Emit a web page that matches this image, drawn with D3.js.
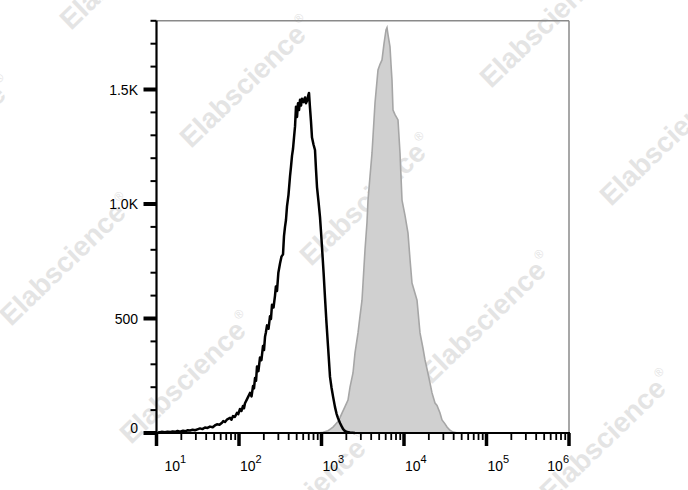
<!DOCTYPE html>
<html><head><meta charset="utf-8">
<script src="https://cdn.jsdelivr.net/npm/d3@7"></script>
<style>
html,body{margin:0;padding:0;background:#fff;}
svg{display:block;font-family:"Liberation Sans",Arial,sans-serif;}
</style></head>
<body>
<svg id="chart" width="688" height="490"></svg>
<script>
// ---- data ----
// isotype / unstained control (black outline)
const controlIntensity = [10.4,11.5,12.7,13.6,14.6,15.6,16.8,18,19.3,21,22.6,24,25.5,27.4,29.3,31.3,33.7,36,38.7,41.5,44.5,48,51,54.1,58,62.2,64.5,67.7,72,77.8,81,84.6,89,94.6,98,102.8,107,111.8,115,118.2,126,135.9,142,147.8,152,156.3,161,165.3,172,179.7,187,195.4,201,206.7,212,218.5,228,237.6,244,251.2,262,273.2,280,288.9,300,314.1,327,341.5,351,361.1,371,381.8,398,415.1,426,439,451.3,464.2,478,490.8,505,519,534,548.8,565,580.2,605,631,648,667.2,686,705.5,725.4,746,767,800,834.1,858,882,920,959,986,1014,1060,1103,1150,1199,1268,1320,1379,1458,1520,1585,1676,1750,1822,1900,2038,2216,2548];
const controlCount = [2,5,3,6,4,7,5,9,6,10,8,12,11,14,12,16,20,17,24,22,28,25,33,38,36,45,52,48,60,66,58,74,70,88,82,105,96,118,108,130,150,175,160,205,195,240,228,290,270,330,318,380,362,420,440,470,455,510,498,560,548,600,640,620,700,740,770,780,860,900,930,990,1040,1120,1160,1210,1240,1290,1340,1425,1380,1440,1410,1455,1430,1460,1445,1465,1440,1450,1470,1485,1420,1360,1290,1260,1236,1150,1074,1010,943,880,812,700,590,480,380,245,200,160,113,85,65,44,30,18,10,4,2,0];
// stained sample (grey filled)
const sampleIntensity = [907,1043,1199,1290,1379,1480,1585,1680,1772,1927,2095,2216,2409,2548,2770,2929,3097,3368,3561,3662,3872,4095,4452,4840,5118,5412,5723,6051,6223,6399,6766,6958,7154,7356,7779,8459,8945,9458,10280,11180,11820,12500,13590,14380,15630,16990,17970,19540,20670,21850,23760,25120,27320,28890,31410,33210,36110,39260,45120];
const sampleCount = [0,3,10,18,26,38,50,68,87,115,144,200,262,350,437,510,580,800,920,1017,1120,1223,1441,1585,1610,1629,1700,1760,1770,1740,1686,1610,1541,1410,1390,1367,1223,1017,950,873,760,655,610,580,437,370,319,260,218,175,131,120,87,57,40,26,12,4,0];
// axis ticks
const xDecades = [10,100,1000,10000,100000,1000000];
const xExponents = ["1","2","3","4","5","6"];
const yMajorTicks = [0,500,1000,1500];
const yTickLabels = ["0","500","1.0K","1.5K"];
const watermarkText = "Elabscience";

// ---- layout ----
const svg = d3.select("#chart");
const pLeft = 156.5, pRight = 569, pTop = 20.8, pBottom = 433;
const x = d3.scaleLog().domain([10, 1e6]).range([pLeft, pRight]);
const y = d3.scaleLinear().domain([0, 1800]).range([pBottom, pTop]);

// watermarks (under data)
const wm = svg.append("g");
const u = [120, 118], v = [180, -178], base = [191, 149];
const wmPos = [];
for (let j = -1; j <= 1; j++) for (let i = -1; i <= 3; i++) {
  wmPos.push([base[0] + i*u[0] + j*v[0], base[1] + i*u[1] + j*v[1]]);
}
wmPos.forEach(p => {
  const t = wm.append("text")
    .attr("transform", `translate(${p[0]},${p[1]}) rotate(-44)`)
    .attr("font-size", 28).attr("font-weight", "bold")
    .attr("fill", "#e4e4e4");
  t.append("tspan").text(watermarkText);
  t.append("tspan").attr("font-size", 12).attr("font-weight", "normal").attr("dy", -15).attr("dx", 2).text("®");
});

// frame top/right
svg.append("line").attr("x1", pLeft).attr("x2", pRight).attr("y1", pTop).attr("y2", pTop)
  .attr("stroke", "#8a8a8a").attr("stroke-width", 1.5);
svg.append("line").attr("x1", pRight).attr("x2", pRight).attr("y1", pTop).attr("y2", pBottom)
  .attr("stroke", "#8a8a8a").attr("stroke-width", 1.5);

// sample area
const sample = sampleIntensity.map((d, i) => [d, sampleCount[i]]);
svg.append("path").datum(sample)
  .attr("d", d3.area().x(d => x(d[0])).y0(y(0)).y1(d => y(d[1])))
  .attr("fill", "#d0d0d0").attr("stroke", "none");
svg.append("path").datum(sample)
  .attr("d", d3.line().x(d => x(d[0])).y(d => y(d[1])))
  .attr("fill", "none").attr("stroke", "#a6a6a6").attr("stroke-width", 1.6);

// axes
const xAxisG = svg.append("g");
xAxisG.append("line").attr("x1", pLeft - 1).attr("x2", pRight + 1).attr("y1", pBottom).attr("y2", pBottom)
  .attr("stroke", "#000").attr("stroke-width", 2);
x.ticks().forEach(t => {
  const major = Math.abs(Math.log10(t) - Math.round(Math.log10(t))) < 1e-9;
  xAxisG.append("line").attr("x1", x(t)).attr("x2", x(t))
    .attr("y1", pBottom).attr("y2", pBottom + (major ? 13 : 7))
    .attr("stroke", "#000").attr("stroke-width", major ? 3.5 : 1.8);
});
xDecades.forEach((t, i) => {
  const last = i === xDecades.length - 1;
  const dx = i === 0 ? 8 : 1;
  const txt = xAxisG.append("text")
    .attr("x", last ? x(t) : x(t) + dx).attr("y", 471)
    .attr("text-anchor", last ? "end" : "start")
    .attr("font-size", 14).attr("fill", "#000");
  txt.append("tspan").text("10");
  txt.append("tspan").attr("font-size", 11).attr("dy", -8).text(xExponents[i]);
});

const yAxisG = svg.append("g");
yAxisG.append("line").attr("x1", pLeft).attr("x2", pLeft).attr("y1", pTop).attr("y2", pBottom + 1)
  .attr("stroke", "#000").attr("stroke-width", 2.2);
d3.range(0, 1801, 100).forEach(t => {
  const major = yMajorTicks.includes(t);
  yAxisG.append("line").attr("x1", pLeft - (major ? 13 : 6)).attr("x2", pLeft)
    .attr("y1", y(t)).attr("y2", y(t))
    .attr("stroke", "#000").attr("stroke-width", major ? 4 : 2);
});
yMajorTicks.forEach((t, i) => {
  yAxisG.append("text").attr("x", 138).attr("y", y(t) + (t === 0 ? -5 : 0))
    .attr("dy", "0.36em").attr("text-anchor", "end")
    .attr("font-size", 14).attr("fill", "#000").text(yTickLabels[i]);
});

// control line (on top)
const control = controlIntensity.map((d, i) => [d, controlCount[i]]);
svg.append("path").datum(control)
  .attr("d", d3.line().x(d => x(d[0])).y(d => y(d[1])))
  .attr("fill", "none").attr("stroke", "#000").attr("stroke-width", 2.5)
  .attr("stroke-linejoin", "round");
</script>
</body></html>
